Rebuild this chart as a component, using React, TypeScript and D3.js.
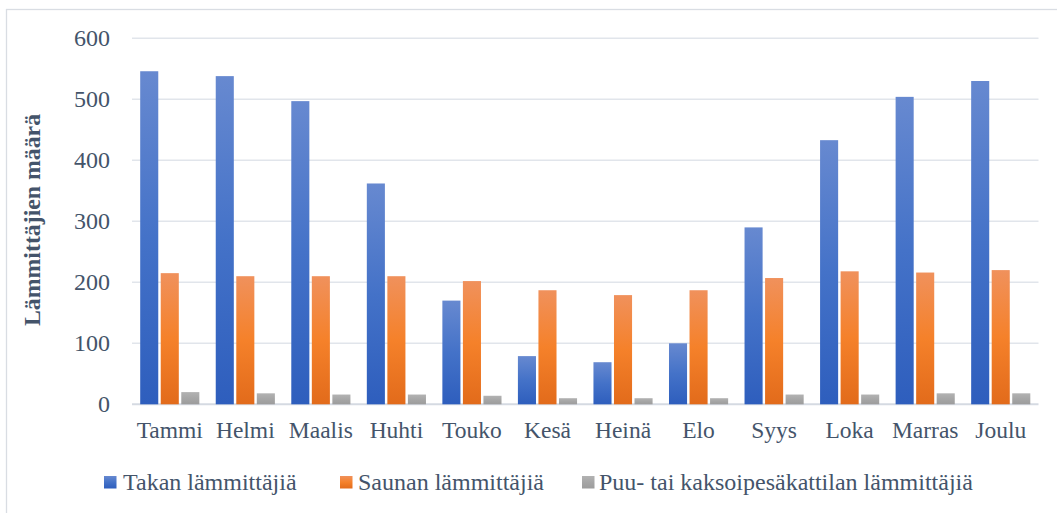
import React from "react";
import * as d3 from "d3";

const months = ["Tammi", "Helmi", "Maalis", "Huhti", "Touko", "Kesä", "Heinä", "Elo", "Syys", "Loka", "Marras", "Joulu"];
const seriesNames = ["Takan lämmittäjiä", "Saunan lämmittäjiä", "Puu- tai kaksoipesäkattilan lämmittäjiä"];
const takan = [546, 538, 497, 362, 170, 79, 69, 100, 290, 433, 504, 530];
const saunan = [215, 210, 210, 210, 202, 187, 179, 187, 207, 218, 216, 220];
const puu = [20, 18, 16, 16, 14, 10, 10, 10, 16, 16, 18, 18];
const yTicks = [0, 100, 200, 300, 400, 500, 600];

const W = 1057;
const H = 513;
const left = 132;
const right = 1038.5;
const top = 38.3;
const bottom = 404.3;
const textColor = "#44546A";
const font = '"Liberation Serif", Tinos, "Times New Roman", Times, "DejaVu Serif", serif';

const gradients = [
  { id: "gBlue", stops: ["#6789D0", "#4472C8", "#2E5EBD"] },
  { id: "gOrange", stops: ["#F0915C", "#F5812A", "#E26B1B"] },
  { id: "gGray", stops: ["#B2B2B2", "#A6A6A6", "#9C9C9C"] },
];

export default function App() {
  const data = [takan, saunan, puu];
  const x0 = d3.scaleBand<string>().domain(months).range([left, right]).padding(0);
  const bw = x0.bandwidth();
  const x1 = d3
    .scaleBand<number>()
    .domain([0, 1, 2])
    .range([8.2, bw - 8.2])
    .paddingInner(0.12);
  const y = d3.scaleLinear().domain([0, 600]).range([bottom, top]);

  const legendItems = [
    { sx: 104, tx: 123 },
    { sx: 340, tx: 358 },
    { sx: 582, tx: 599 },
  ];

  return (
    <svg width={W} height={H} style={{ position: "absolute", left: 0, top: 0, fontFamily: font }}>
      <defs>
        {gradients.map((g) => (
          <linearGradient key={g.id} id={g.id} x1="0" y1="0" x2="0" y2="1">
            <stop offset="0%" stopColor={g.stops[0]} />
            <stop offset="50%" stopColor={g.stops[1]} />
            <stop offset="100%" stopColor={g.stops[2]} />
          </linearGradient>
        ))}
      </defs>
      <rect x={0} y={0} width={W} height={H} fill="#ffffff" />
      <rect x={6.5} y={9.5} width={1060} height={520} fill="#ffffff" stroke="#D9DDE3" strokeWidth={1.3} />
      {yTicks.map((t) => (
        <line
          key={t}
          x1={left}
          x2={right}
          y1={y(t)}
          y2={y(t)}
          stroke={t === 0 ? "#D5DAE2" : "#E1E5EB"}
          strokeWidth={t === 0 ? 2 : 1.6}
        />
      ))}
      {yTicks.map((t) => (
        <text key={t} x={110} y={y(t) + 8} textAnchor="end" fontSize={24} fill={textColor} style={{ fontFamily: font }}>
          {t}
        </text>
      ))}
      {months.map((m, i) => (
        <g key={m}>
          {data.map((s, k) => (
            <rect
              key={k}
              x={(x0(m) as number) + (x1(k) as number)}
              y={y(s[i])}
              width={x1.bandwidth()}
              height={bottom - y(s[i])}
              fill={`url(#${gradients[k].id})`}
            />
          ))}
          <text
            x={(x0(m) as number) + bw / 2}
            y={438}
            textAnchor="middle"
            fontSize={23.5}
            fill={textColor}
            style={{ fontFamily: font }}
          >
            {m}
          </text>
        </g>
      ))}
      <text
        x={40}
        y={220}
        transform="rotate(-90, 40, 220)"
        textAnchor="middle"
        fontSize={23.8}
        fontWeight="bold"
        fill={textColor}
        style={{ fontFamily: font }}
      >
        Lämmittäjien määrä
      </text>
      {seriesNames.map((n, k) => (
        <g key={n}>
          <rect x={legendItems[k].sx} y={476} width={12.5} height={12.5} fill={`url(#${gradients[k].id})`} />
          <text x={legendItems[k].tx} y={490} fontSize={24} fill={textColor} style={{ fontFamily: font }}>
            {n}
          </text>
        </g>
      ))}
    </svg>
  );
}
